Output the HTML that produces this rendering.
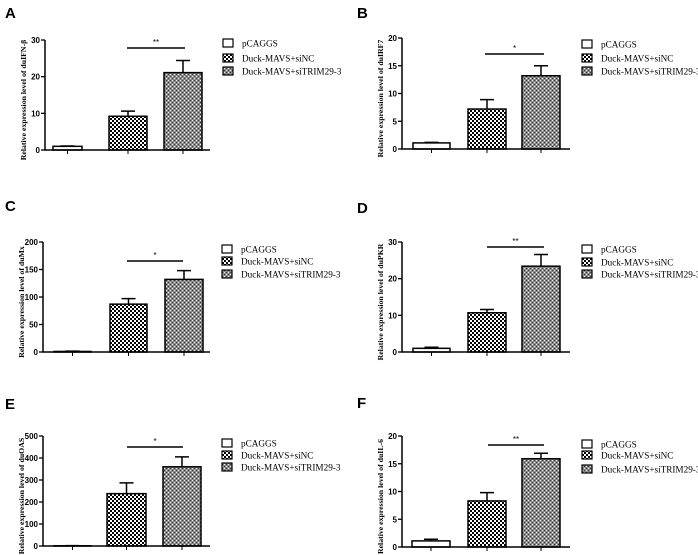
<!DOCTYPE html>
<html><head><meta charset="utf-8"><style>
html,body{margin:0;padding:0;background:#fff;}
svg{display:block;}
</style></head><body>
<svg id="fig" width="698" height="555" viewBox="0 0 698 555" xmlns="http://www.w3.org/2000/svg">
<defs>
<pattern id="pCheck" width="4" height="4" patternUnits="userSpaceOnUse">
<rect width="4" height="4" fill="#fff"/><rect width="2" height="2" fill="#000"/><rect x="2" y="2" width="2" height="2" fill="#000"/>
</pattern>
<pattern id="pFine" width="4" height="4" patternUnits="userSpaceOnUse">
<rect width="4" height="4" fill="#8a8a8a"/><rect width="1" height="1" fill="#eee"/><rect x="2" y="2" width="1" height="1" fill="#eee"/><rect x="2" y="0" width="1" height="1" fill="#333"/><rect x="0" y="2" width="1" height="1" fill="#333"/>
</pattern>
</defs>
</svg>
<script>
const categories = ["pCAGGS", "Duck-MAVS+siNC", "Duck-MAVS+siTRIM29-3"];
const panelLetters = ["A", "B", "C", "D", "E", "F"];
const yTitles = ["Relative expression level of duIFN-β", "Relative expression level of duIRF7", "Relative expression level of duMx", "Relative expression level of duPKR", "Relative expression level of duOAS", "Relative expression level of duIL-6"];
const yMaxes = [30, 20, 200, 30, 500, 20];
const yStepsArr = [10, 5, 50, 10, 100, 5];
const meansA = [1.0, 9.2, 21.1];
const errsA = [0.1, 1.4, 3.3];
const meansB = [1.1, 7.2, 13.2];
const errsB = [0.1, 1.7, 1.8];
const meansC = [1.0, 87, 132];
const errsC = [0.5, 10, 16];
const meansD = [1.0, 10.7, 23.4];
const errsD = [0.3, 0.9, 3.2];
const meansE = [1.0, 238, 360];
const errsE = [0.5, 49, 45];
const meansF = [1.1, 8.3, 15.9];
const errsF = [0.3, 1.5, 1.0];
const sigLabels = ["**", "*", "*", "**", "*", "**"];

const allMeans = [meansA, meansB, meansC, meansD, meansE, meansF];
const allErrs = [errsA, errsB, errsC, errsD, errsE, errsF];
// layout
const L = [
 {ax:45, y0:150, yT:40, bars:[[53,82],[109,147],[164,202]], xEnd:210, lx:223, ly:[43,58,71], sig:[127,185,48], lt:[5,18], ylx:26},
 {ax:402, y0:149, yT:38, bars:[[413,450],[468,506],[522,560]], xEnd:570, lx:582, ly:[44,58,71], sig:[485,544,54], lt:[357,18], ylx:383},
 {ax:43, y0:352, yT:242, bars:[[54,91],[110,147],[165,203]], xEnd:210, lx:222, ly:[249,261,274], sig:[127,183,261], lt:[5,211], ylx:24},
 {ax:402, y0:352, yT:242, bars:[[413,450],[468,506],[522,560]], xEnd:570, lx:582, ly:[249,262,274], sig:[487,544,247], lt:[357,213], ylx:383},
 {ax:43, y0:546, yT:436, bars:[[54,91],[107,146],[163,201]], xEnd:210, lx:222, ly:[443,455,467], sig:[127,183,447], lt:[5,409], ylx:24},
 {ax:402, y0:547, yT:436, bars:[[412,450],[468,506],[522,560]], xEnd:570, lx:582, ly:[444,455,469], sig:[488,544,445], lt:[357,408], ylx:383}
];
const fills = ["#fff", "url(#pCheck)", "url(#pFine)"];
const NS = "http://www.w3.org/2000/svg";
const svg = document.getElementById("fig");
function mk(tag, attrs, parent){const e=document.createElementNS(NS,tag);for(const k in attrs)e.setAttribute(k,attrs[k]);(parent||svg).appendChild(e);return e;}

L.forEach((g, p) => {
  const grp = mk("g", {});
  
  
  const yScale = v => g.y0 - (v / yMaxes[p]) * (g.y0 - g.yT);
  const letter = mk("text", {x:g.lt[0], y:g.lt[1], "font-family":"Liberation Sans, sans-serif", "font-weight":"bold", "font-size":"15"}, grp);
  letter.textContent = panelLetters[p];
  
  
  const ym = (g.y0 + g.yT) / 2 + 5;
  const yt = mk("text", {x:g.ylx, y:ym, transform:`rotate(-90 ${g.ylx} ${ym})`, "text-anchor":"middle", "font-family":"Liberation Serif, serif", "font-weight":"bold", "font-size":"7.8"}, grp);
  yt.textContent = yTitles[p];
  
  
  allMeans[p].forEach((m, i) => {
    const [x1, x2] = g.bars[i];
    const cx = (x1 + x2) / 2;
    const top = yScale(m + allErrs[p][i]);
    const eb = mk("path", {d:`M${cx} ${yScale(m)}V${top}M${cx-7} ${top}H${cx+7}`, stroke:"#000", "stroke-width":"1.5", fill:"none"}, grp);
    
    
    const r = mk("rect", {x:x1, y:yScale(m), width:x2-x1, height:g.y0-yScale(m), fill:fills[i], stroke:"#000", "stroke-width":"1.5"}, grp);
    
    
    const xt = mk("line", {x1:cx, x2:cx, y1:g.y0, y2:g.y0+4, stroke:"#000", "stroke-width":"1"}, grp);
    
    
  });
  const axes = mk("path", {d:`M${g.ax} ${g.yT}V${g.y0}H${g.xEnd}`, stroke:"#000", "stroke-width":"1.5", fill:"none"}, grp);
  
  
  for (let v = 0; v <= yMaxes[p] + 1e-9; v += yStepsArr[p]) {
    const y = yScale(v);
    const tk = mk("line", {x1:g.ax-4, x2:g.ax, y1:y, y2:y, stroke:"#000", "stroke-width":"1.3"}, grp);
    
    
    const tl = mk("text", {x:g.ax-5, y:y+3, "text-anchor":"end", "font-family":"Liberation Sans, sans-serif", "font-weight":"bold", "font-size":"8"}, grp);
    tl.textContent = v;
    
    
  }
  const sl = mk("line", {x1:g.sig[0], x2:g.sig[1], y1:g.sig[2], y2:g.sig[2], stroke:"#000", "stroke-width":"1.5"}, grp);
  
  
  const st = mk("text", {x:(g.sig[0]+g.sig[1])/2, y:g.sig[2]-3, "text-anchor":"middle", "font-family":"Liberation Sans, sans-serif", "font-size":"8"}, grp);
  st.textContent = sigLabels[p];
  
  
  categories.forEach((c, i) => {
    const ly = g.ly[i];
    const b = mk("rect", {x:g.lx, y:ly-4, width:10, height:8, fill:fills[i], stroke:"#000", "stroke-width":"1.2"}, grp);
    
    
    const t = mk("text", {x:g.lx+19, y:ly+3.5, "font-family":"Liberation Serif, serif", "font-size":"9.2"}, grp);
    t.textContent = c;
    
    
  });
});
</script>
</body></html>
